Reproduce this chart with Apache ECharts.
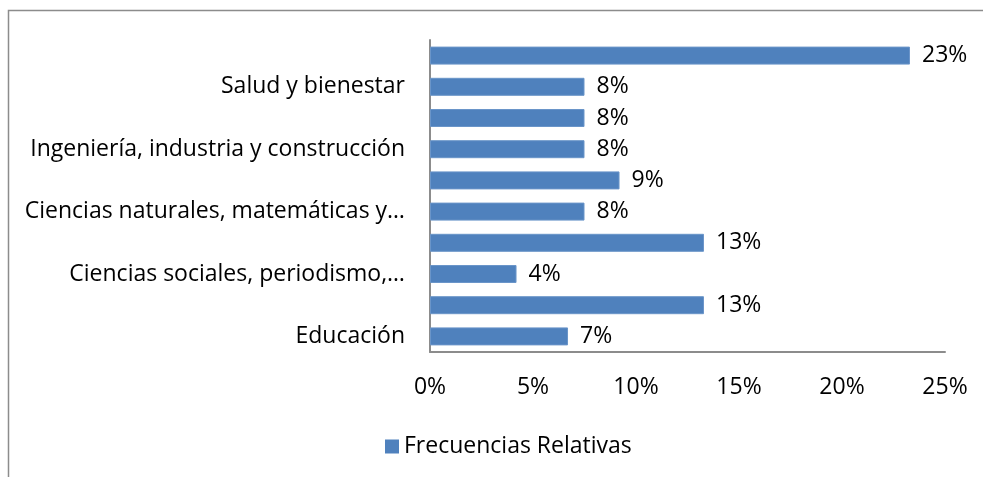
<!DOCTYPE html>
<html>
<head>
<meta charset="utf-8">
<script src="https://cdn.jsdelivr.net/npm/echarts@6/dist/echarts.min.js"></script>
<style>
  html, body { margin: 0; padding: 0; background: #fff; }
  #chart { width: 983px; height: 477px; }
</style>
</head>
<body>
<div id="chart"></div>
<script>
// categories from bottom to top (only every other one is labelled in the picture)
var categories = [
  'Educación',
  'Artes y humanidades',
  'Ciencias sociales, periodismo,…',
  'Administración de empresas y derecho',
  'Ciencias naturales, matemáticas y…',
  'Tecnologías de la información y la comunicación',
  'Ingeniería, industria y construcción',
  'Agricultura, silvicultura, pesca y veterinaria',
  'Salud y bienestar',
  'Servicios'
]
// relative frequencies, percent
var frecuencias = [6.7, 13.3, 4.2, 13.3, 7.5, 9.2, 7.5, 7.5, 7.5, 23.3]
var xTicks = [0, 5, 10, 15, 20, 25]

var font = 'Open Sans'
var fs = 23
var chart = echarts.init(document.getElementById('chart'))

chart.setOption({
  animation: false,
  textStyle: { fontFamily: font },
  graphic: [
    {
      type: 'polyline',
      shape: { points: [[8.5, 477], [8.5, 10.5], [983, 10.5]] },
      style: { stroke: '#8c8c8c', lineWidth: 1.5, fill: null }
    }
  ],
  grid: { left: 430, top: 40, right: 38, bottom: 125 },
  legend: {
    left: 380,
    top: 430,
    icon: 'rect',
    itemWidth: 14,
    itemHeight: 14,
    itemGap: 7,
    itemStyle: { borderWidth: 0 },
    textStyle: { fontSize: fs, color: '#000', fontFamily: font },
    data: ['Frecuencias Relativas']
  },
  xAxis: {
    type: 'value',
    min: xTicks[0],
    max: xTicks[xTicks.length - 1],
    interval: 5,
    splitLine: { show: false },
    axisTick: { show: false },
    axisLine: { show: true, lineStyle: { color: '#8c8c8c', width: 2 } },
    axisLabel: {
      margin: 24,
      fontSize: fs,
      color: '#000',
      fontFamily: font,
      formatter: function (v) { return v + '%' }
    }
  },
  yAxis: {
    type: 'category',
    data: categories,
    axisTick: { show: false },
    axisLine: { show: true, lineStyle: { color: '#8c8c8c', width: 2 } },
    axisLabel: {
      interval: 1,
      margin: 25,
      fontSize: fs,
      color: '#000',
      fontFamily: font
    }
  },
  series: [
    {
      name: 'Frecuencias Relativas',
      type: 'bar',
      data: frecuencias,
      barWidth: 18,
      itemStyle: { color: '#4f81bd', borderColor: '#6a95c9', borderWidth: 1 },
      label: {
        show: true,
        position: 'right',
        distance: 12,
        fontSize: fs,
        color: '#000',
        fontFamily: font,
        formatter: function (p) { return Math.round(p.value) + '%' }
      }
    }
  ]
})
</script>
</body>
</html>
